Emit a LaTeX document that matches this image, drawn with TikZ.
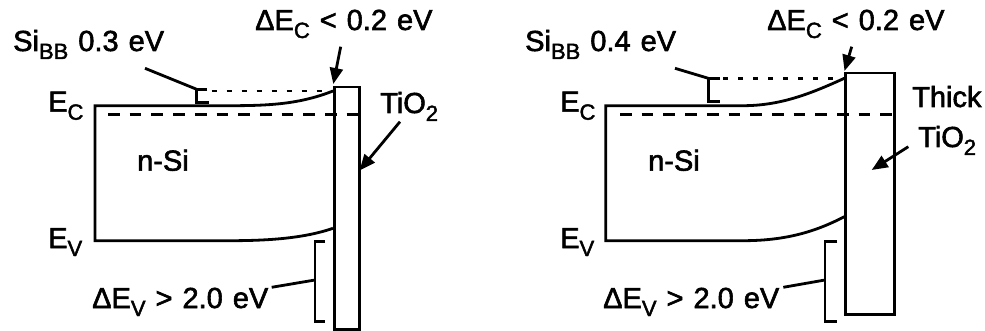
\documentclass[tikz,border=0pt]{standalone}
\usepackage{fontspec}
\setmainfont{Liberation Sans}[UprightFeatures={FakeBold=2}]
\usetikzlibrary{arrows.meta}
\newcommand\sbs[1]{\raisebox{-8pt}{\fontsize{22}{22}\selectfont #1}}
\newcommand\lblfont{\fontsize{29}{32}\selectfont\setlength{\spaceskip}{10pt}}
\tikzset{
  band/.style={line width=2.8pt, line join=miter},
  lead/.style={line width=2.8pt},
  arr/.style={line width=2.8pt, -{Triangle[length=16pt,width=13pt]}},
  dashline/.style={line width=2.8pt, dash pattern=on 11.7pt off 10pt},
  dotline/.style={line width=2.8pt, dash pattern=on 5pt off 10pt},
  lbl/.style={anchor=base west, inner sep=0pt, font=\lblfont}
}
\begin{document}
\begin{tikzpicture}[x=1pt,y=-1pt]
\useasboundingbox (0,0) rectangle (985,331);
% ================= LEFT PANEL =================
\coordinate (L-ect) at (95,105.7);
\coordinate (L-ecf) at (230,105.7);
\coordinate (L-ecs) at (333,91);
\coordinate (L-evb) at (95,240.7);
\coordinate (L-evf) at (230,240.7);
\coordinate (L-evs) at (333,228.3);
\draw[band] (L-ecs) .. controls (300,104) and (270,105.7) .. (L-ecf) -- (L-ect) -- (L-evb) -- (L-evf) .. controls (270,240.7) and (305,238) .. (L-evs);
\node[draw, band, minimum width=25pt, minimum height=242pt, inner sep=0pt, anchor=north west] (L-tio) at (333,85.7) {};
\coordinate (L-dA) at (108,114.3);
\coordinate (L-dB) at (358,114.3);
\draw[dashline] (L-dA) -- (L-dB);
\coordinate (L-oA) at (211.5,91);
\coordinate (L-oB) at (333,91);
\draw[dotline] (L-oA) -- (L-oB);
% Si_BB bracket
\coordinate (L-b1) at (207,89.3);
\coordinate (L-b2) at (196.7,89.3);
\coordinate (L-b3) at (196.7,102.5);
\coordinate (L-b4) at (208.5,102.5);
\draw[band] (L-b1) -- (L-b2) -- (L-b3) -- (L-b4);
\coordinate (L-lead1) at (145,68.3);
\draw[lead] (L-lead1) -- (L-b2);
% Delta Ev bracket
\coordinate (L-v1) at (325,241.7);
\coordinate (L-v2) at (315,241.7);
\coordinate (L-v3) at (315,321.7);
\coordinate (L-v4) at (325,321.7);
\coordinate (L-vm) at (315,280);
\draw[band] (L-v1) -- (L-v2) -- (L-v3) -- (L-v4);
\coordinate (L-lead2) at (271.7,287.3);
\draw[lead] (L-lead2) -- (L-vm);
% arrows
\coordinate (L-a1) at (340.7,46.7);
\coordinate (L-a1t) at (333.3,84);
\draw[arr] (L-a1) -- (L-a1t);
\coordinate (L-a2) at (400,121.7);
\coordinate (L-a2t) at (359.5,170.5);
\draw[arr] (L-a2) -- (L-a2t);
% labels
\node[lbl] (L-sibb) at (13,51) {Si\sbs{BB} 0.3 eV};
\node[lbl] (L-dec) at (255,30) {ΔE\sbs{C} < 0.2 eV};
\node[lbl] (L-tlab) at (380,113) {TiO\sbs{2}};
\node[lbl] (L-nsi) at (137,170.7) {n-Si};
\node[lbl] (L-ec) at (48,111.7) {E\sbs{C}};
\node[lbl] (L-ev) at (48,248) {E\sbs{V}};
\node[lbl] (L-dev) at (92,308) {ΔE\sbs{V} > 2.0 eV};
% ================= RIGHT PANEL =================
\coordinate (R-ect) at (605.7,105.7);
\coordinate (R-ecf) at (743,105.7);
\coordinate (R-ecs) at (844.3,78.3);
\coordinate (R-evb) at (605.7,240.7);
\coordinate (R-evf) at (743,240.7);
\coordinate (R-evs) at (844.3,216.7);
\draw[band] (R-ecs) .. controls (810,94) and (780,105.7) .. (R-ecf) -- (R-ect) -- (R-evb) -- (R-evf) .. controls (785,240.7) and (815,232) .. (R-evs);
\node[draw, band, minimum width=49pt, minimum height=241.6pt, inner sep=0pt, anchor=north west] (R-tio) at (844.3,71.7) {};
\coordinate (R-dA) at (620,114.3);
\coordinate (R-dB) at (893.3,114.3);
\draw[dashline] (R-dA) -- (R-dB);
\coordinate (R-oA) at (723,78.3);
\coordinate (R-oB) at (844.3,78.3);
\draw[dotline] (R-oA) -- (R-oB);
\coordinate (R-b1) at (720,78.3);
\coordinate (R-b2) at (708.3,78.3);
\coordinate (R-b3) at (708.3,101.7);
\coordinate (R-b4) at (720,101.7);
\draw[band] (R-b1) -- (R-b2) -- (R-b3) -- (R-b4);
\coordinate (R-lead1) at (675,68.3);
\draw[lead] (R-lead1) -- (R-b2);
\coordinate (R-v1) at (837.3,241.7);
\coordinate (R-v2) at (825,241.7);
\coordinate (R-v3) at (825,321.7);
\coordinate (R-v4) at (837.3,321.7);
\coordinate (R-vm) at (825,280);
\draw[band] (R-v1) -- (R-v2) -- (R-v3) -- (R-v4);
\coordinate (R-lead2) at (783.3,287.3);
\draw[lead] (R-lead2) -- (R-vm);
\coordinate (R-a1) at (851.7,46.7);
\coordinate (R-a1t) at (844.5,71);
\draw[arr] (R-a1) -- (R-a1t);
\coordinate (R-a2) at (908.3,146.7);
\coordinate (R-a2t) at (871.7,170);
\draw[arr] (R-a2) -- (R-a2t);
\node[lbl] (R-sibb) at (525,51) {Si\sbs{BB} 0.4 eV};
\node[lbl] (R-dec) at (767,30) {ΔE\sbs{C} < 0.2 eV};
\node[lbl] (R-thick) at (912,107) {Thick};
\node[lbl] (R-tlab) at (918,147) {TiO\sbs{2}};
\node[lbl] (R-nsi) at (648,170.7) {n-Si};
\node[lbl] (R-ec) at (560,111.7) {E\sbs{C}};
\node[lbl] (R-ev) at (560,248) {E\sbs{V}};
\node[lbl] (R-dev) at (603,308) {ΔE\sbs{V} > 2.0 eV};
\end{tikzpicture}
\end{document}
